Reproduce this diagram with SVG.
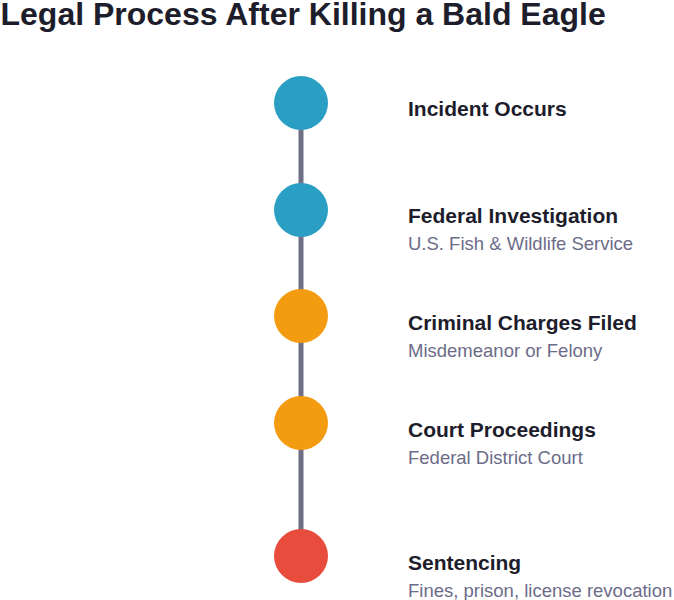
<svg xmlns="http://www.w3.org/2000/svg" width="674" height="600" viewBox="0 0 674 600">
<style>
.title{font-family:"Liberation Sans",Arial,sans-serif;font-weight:bold;font-size:32px;fill:#1d1d2c}
.lbl{font-family:"Liberation Sans",Arial,sans-serif;font-weight:bold;font-size:21px;fill:#1d1d2c}
.sub{font-family:"Liberation Sans",Arial,sans-serif;font-size:18.5px;fill:#6c6c88}
.line{stroke:#6e6e85;stroke-width:5;fill:none}
</style>
<rect width="674" height="600" fill="#ffffff"/>
<text class="title" x="0.5" y="25">Legal Process After Killing a Bald Eagle</text>
<g id="connectors">
<line class="line" x1="301" y1="103" x2="301" y2="210"/>
<line class="line" x1="301" y1="210" x2="301" y2="316"/>
<line class="line" x1="301" y1="316" x2="301" y2="423"/>
<line class="line" x1="301" y1="423" x2="301" y2="556"/>
</g>
<g id="node1"><circle cx="301" cy="103" r="27" fill="#2a9fc3"/><text class="lbl" x="408" y="116">Incident Occurs</text></g>
<g id="node2"><circle cx="301" cy="210" r="27" fill="#2a9fc3"/><text class="lbl" x="408" y="223">Federal Investigation</text><text class="sub" x="408" y="250">U.S. Fish &amp; Wildlife Service</text></g>
<g id="node3"><circle cx="301" cy="316" r="27" fill="#f39c12"/><text class="lbl" x="408" y="330">Criminal Charges Filed</text><text class="sub" x="408" y="357">Misdemeanor or Felony</text></g>
<g id="node4"><circle cx="301" cy="423" r="27" fill="#f39c12"/><text class="lbl" x="408" y="437">Court Proceedings</text><text class="sub" x="408" y="464">Federal District Court</text></g>
<g id="node5"><circle cx="301" cy="556" r="27" fill="#e74c3c"/><text class="lbl" x="408" y="570">Sentencing</text><text class="sub" x="408" y="597">Fines, prison, license revocation</text></g>
</svg>
